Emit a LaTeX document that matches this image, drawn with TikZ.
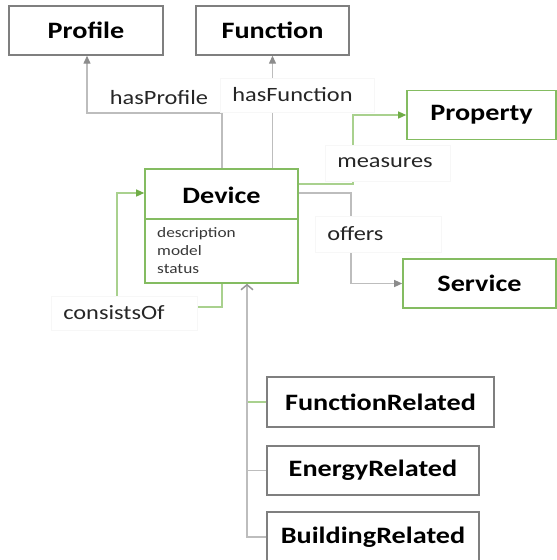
\documentclass[tikz,border=0pt]{standalone}
\usepackage{fontspec}
\setmainfont{Carlito}[FakeStretch=1.2]
\usetikzlibrary{arrows.meta}
\definecolor{boxgreen}{HTML}{84BC61}
\definecolor{linegreen}{HTML}{A9D18E}
\definecolor{tipgreen}{HTML}{70AD47}
\definecolor{boxgray}{HTML}{7F7F7F}
\definecolor{linegray}{HTML}{BDBDBD}
\definecolor{tipgray}{HTML}{8C8C8C}
\definecolor{labelframe}{HTML}{F7F7F7}
\tikzset{
  x=1pt, y=-1pt,
  classbox/.style={draw, line width=1.4pt, fill=white, inner sep=0pt,
    font=\fontsize{23.5}{28}\selectfont\bfseries},
  graybox/.style={classbox, draw=boxgray},
  greenbox/.style={classbox, draw=boxgreen, line width=1.6pt},
  grayconn/.style={draw=linegray, line width=1.3pt,
    -{Triangle[length=8pt,width=7pt,color=tipgray]}},
  greenconn/.style={draw=linegreen, line width=1.3pt,
    -{Triangle[length=8pt,width=7pt,color=tipgreen]}},
  genconn/.style={draw=linegray, line width=1.3pt,
    -{Straight Barb[length=5pt,width=12pt,line width=1.5pt,color=tipgray!80!linegray]}},
  rolelabel/.style={fill=white, draw=labelframe, line width=0.6pt, inner xsep=12pt,
    inner ysep=0pt, align=left, anchor=west, text=black!85,
    font=\fontsize{20.3}{24}\selectfont},
  attrtext/.style={inner sep=0pt, anchor=west, align=left, text=black!78,
    font=\fontsize{14.4}{18}\selectfont},
}
\begin{document}
\begin{tikzpicture}
\useasboundingbox (0,0) rectangle (557,560);

% classes
\node[graybox, minimum width=154pt, minimum height=49pt] (Profile) at (86,30.5) {Profile};
\node[graybox, minimum width=153pt, minimum height=49pt] (Function) at (272.5,30.5) {Function};
\node[greenbox, minimum width=149pt, minimum height=49pt] (Property) at (481.5,115) {Property};
\node[greenbox, minimum width=153pt, minimum height=49pt] (Service) at (479.5,283.5) {Service};
\node[greenbox, minimum width=153pt, minimum height=114pt] (Device) at (221.5,226) {};
\node[font=\fontsize{23.5}{28}\selectfont\bfseries, inner sep=0pt] (DeviceName) at (221.5,195) {Device};
\coordinate (divider) at (0,219);
\draw[draw=boxgreen, line width=1.4pt] (Device.west |- divider) -- (Device.east |- divider);
\node[attrtext] (DeviceAttr) at (157,251) {description\\model\\status};

\node[graybox, minimum width=227pt, minimum height=50pt] (FunctionRelated) at (380.5,402) {FunctionRelated};
\node[graybox, minimum width=212pt, minimum height=49pt] (EnergyRelated) at (373,470.5) {EnergyRelated};
\node[graybox, minimum width=212pt, minimum height=50pt] (BuildingRelated) at (373,537) {BuildingRelated};

% relations
\coordinate (hpx) at (222,0);
\coordinate (hpBend) at (87,113);
\draw[grayconn] (Device.north -| hpx) |- (hpBend) -- (Profile.south -| hpBend);
\draw[grayconn] (Device.north -| Function.south) -- (Function.south);

\coordinate (ms) at (353,184);
\draw[greenconn] (Device.east |- ms) -| (ms |- Property.west) -- (Property.west);

\coordinate (of) at (351,193);
\draw[grayconn] (Device.east |- of) -| (of |- Service.west) -- (Service.west);

\coordinate (coA) at (222,307);
\coordinate (coB) at (117,193);
\draw[greenconn] (Device.south -| coA) -- (coA) -| (coB) -- (Device.west |- coB);

% specialisations
\coordinate (gx) at (247,0);
\draw[draw=linegreen, line width=1.3pt] (FunctionRelated.west) -- (FunctionRelated.west -| gx);
\draw[draw=linegray, line width=1.3pt] (EnergyRelated.west) -- (EnergyRelated.west -| gx);
\draw[genconn] (BuildingRelated.west) -| (Device.south -| gx);

% role labels
\node[fill=white, inner sep=1pt, text=black!85, font=\fontsize{20.3}{24}\selectfont] (hasProfile) at (159,98) {hasProfile};
\node[rolelabel, minimum width=154pt, minimum height=34pt, text width=130pt] (hasFunction) at (220,95) {hasFunction};
\node[rolelabel, minimum width=125pt, minimum height=36pt, text width=101pt] (measures) at (325,163) {measures};
\node[rolelabel, minimum width=126pt, minimum height=36pt, text width=102pt] (offers) at (315,234) {offers};
\node[rolelabel, minimum width=146pt, minimum height=34pt, text width=122pt] (consistsOf) at (51,313) {consistsOf};
\end{tikzpicture}
\end{document}
